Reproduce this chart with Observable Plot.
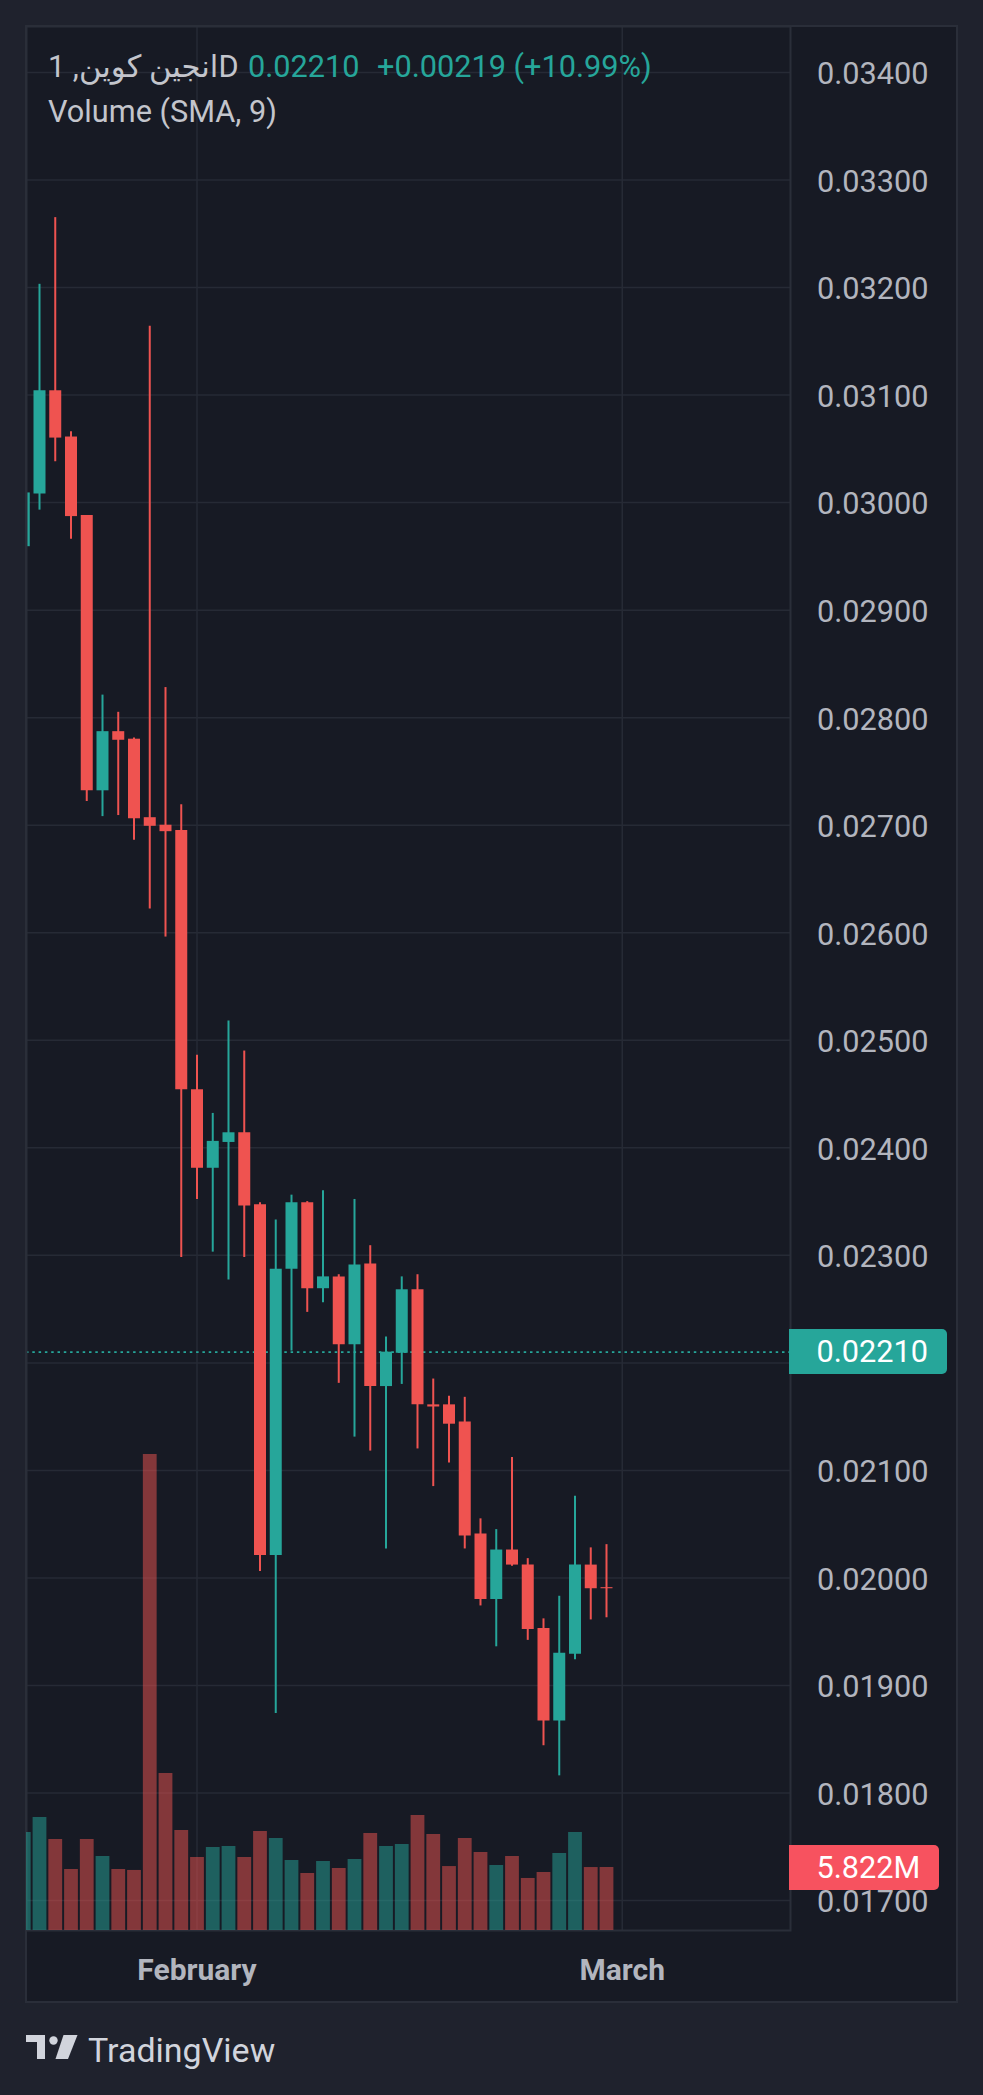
<!DOCTYPE html>
<html>
<head>
<meta charset="utf-8">
<script src="https://cdn.jsdelivr.net/npm/d3@7"></script>
<script src="https://cdn.jsdelivr.net/npm/@observablehq/plot@0.6"></script>
<style>
  html, body { margin: 0; padding: 0; background: #1f222d; }
  #page { position: relative; width: 983px; height: 2095px; overflow: hidden; background: #1f222d; font-family: Roboto, "DejaVu Sans", sans-serif; }
  #frame { position: absolute; left: 25px; top: 25px; width: 933px; height: 1978px; box-sizing: border-box; border: 2px solid #2a2e39; background: #171a24; }
  .layer { position: absolute; left: 26px; top: 26px; }
  .hdr { position: absolute; font-size: 30.7px; line-height: 36px; white-space: nowrap; }
  .tag { position: absolute; left: 789px; height: 45px; line-height: 45px; font-size: 30.7px; color: #ffffff; padding: 0 19px 0 27.5px; border-radius: 0 5px 5px 0; white-space: nowrap; }
</style>
</head>
<body>
<div id="page">
  <div id="frame"></div>
  <div id="mainLayer" class="layer"></div>
  <div id="volLayer" class="layer"></div>
</div>
<script>
// ---- data (daily candles, index 0 = leftmost, partly hidden) ----
const opens  = [0.02959,0.03008,0.03104,0.03061,0.02988,0.02732,0.02787,0.02780,0.02707,0.02700,
                0.02695,0.02454,0.02381,0.02405,0.02414,0.02347,0.02021,0.02287,0.02349,0.02269,
                0.02280,0.02217,0.02292,0.02178,0.02209,0.02268,0.02161,0.02161,0.02145,0.02041,
                0.01980,0.02026,0.02012,0.01953,0.01867,0.01929,0.02012,0.01991];
const highs  = [0.03025,0.03203,0.03265,0.03066,0.02988,0.02821,0.02805,0.02781,0.03164,0.02828,
                0.02719,0.02486,0.02432,0.02518,0.02490,0.02349,0.02333,0.02356,0.02350,0.02360,
                0.02282,0.02352,0.02309,0.02224,0.02280,0.02282,0.02185,0.02169,0.02168,0.02055,
                0.02045,0.02112,0.02018,0.01962,0.01983,0.02076,0.02028,0.02031];
const lows   = [0.02950,0.02993,0.03038,0.02966,0.02722,0.02708,0.02709,0.02686,0.02622,0.02596,
                0.02298,0.02352,0.02303,0.02277,0.02298,0.02006,0.01874,0.02211,0.02247,0.02256,
                0.02181,0.02131,0.02118,0.02027,0.02180,0.02120,0.02085,0.02107,0.02027,0.01974,
                0.01936,0.02011,0.01942,0.01844,0.01816,0.01924,0.01961,0.01963];
const closes = [0.03009,0.03104,0.03060,0.02987,0.02732,0.02787,0.02779,0.02706,0.02699,0.02694,
                0.02454,0.02381,0.02406,0.02414,0.02346,0.02021,0.02287,0.02349,0.02269,0.02280,
                0.02217,0.02291,0.02178,0.02210,0.02268,0.02161,0.02159,0.02143,0.02039,0.01980,
                0.02026,0.02012,0.01952,0.01867,0.01930,0.02012,0.01990,0.01990];
const volumes = [9.06,10.44,8.41,5.64,8.41,6.84,5.64,5.55,44.0,14.51,
                 9.24,6.75,7.67,7.76,6.75,9.15,8.50,6.47,5.27,6.38,
                 5.73,6.56,8.96,7.76,7.95,10.63,8.87,5.91,8.50,7.21,
                 6.01,6.84,4.81,5.36,7.12,9.06,5.82,5.822].map(v => v * 1e6);

const monthTickIndex = [11, 38];
const monthLabels = ["February", "March"];
const priceTicks = [0.017,0.018,0.019,0.020,0.021,0.022,0.023,0.024,0.025,0.026,0.027,0.028,0.029,0.030,0.031,0.032,0.033,0.034];

const symbolName = "انجين كوين, 1D";
const lastPrice = 0.02210;
const priceChange = 0.00219;
const priceChangePct = 10.99;
const volumeTitle = "Volume (SMA, 9)";

// ---- colors ----
const UP = "#26a69a", DOWN = "#ef5350";
const UP_VOL = "rgba(38,166,154,0.5)", DOWN_VOL = "rgba(239,83,80,0.5)";
const GRID = "#262a35", BORDER = "#2a2e39", AXIS_TEXT = "#b2b5be";

const candles = opens.map((o, i) => ({
  i, open: o, high: highs[i], low: lows[i], close: closes[i], volume: volumes[i],
  up: closes[i] >= o
}));

// price-axis labels hidden where the last-price tag sits (as TradingView does)
const axisTicks = priceTicks.filter(t => Math.abs(t - lastPrice) > 0.0003);

const W = 931, H = 1976, MR = 167, MB = 72;
const xScale = {type: "linear", domain: [0, 38], range: [-2.75, 595.75]};
const fmt = d3.format(".5f");

const main = Plot.plot({
  width: W, height: H,
  marginLeft: 0, marginTop: 0, marginRight: MR, marginBottom: MB,
  style: {background: "transparent", color: AXIS_TEXT, fontFamily: "Roboto, sans-serif", fontSize: "30.7px", overflow: "visible"},
  x: xScale,
  y: {domain: [0.017, 0.034], range: [1874.1, 45.96]},
  color: {type: "identity"},
  marks: [
    Plot.ruleY(priceTicks, {stroke: GRID, strokeWidth: 1.5}),
    Plot.ruleX(monthTickIndex, {stroke: GRID, strokeWidth: 1.5}),
    Plot.ruleY([lastPrice], {stroke: UP, strokeWidth: 1.6, strokeDasharray: "2.5,3.8"}),
    Plot.ruleX(candles, {x: "i", y1: "low", y2: "high", stroke: d => d.up ? UP : DOWN, strokeWidth: 2, clip: true}),
    Plot.ruleX(candles, {x: "i", y1: "open", y2: "close", stroke: d => d.up ? UP : DOWN, strokeWidth: 12, clip: true}),
    Plot.frame({stroke: BORDER, strokeWidth: 2}),
    Plot.axisY({anchor: "right", ticks: axisTicks, tickSize: 0, tickPadding: 26.5, tickFormat: fmt, label: null, fill: AXIS_TEXT, dy: 2}),
    Plot.axisX({anchor: "bottom", ticks: monthTickIndex, tickSize: 0, tickPadding: 28,
                tickFormat: d => monthLabels[monthTickIndex.indexOf(d)], label: null,
                fill: AXIS_TEXT, fontWeight: "bold", fontSize: 30})
  ]
});
document.getElementById("mainLayer").appendChild(main);

const vol = Plot.plot({
  width: W, height: H,
  marginLeft: 0, marginTop: 0, marginRight: MR, marginBottom: MB,
  style: {background: "transparent", overflow: "visible"},
  x: {...xScale, axis: null},
  y: {domain: [0, 50e6], range: [1904, 1904 - 50 * 10.82], axis: null},
  color: {type: "identity"},
  marks: [
    Plot.ruleX(candles, {x: "i", y1: 0, y2: "volume", stroke: d => d.up ? UP_VOL : DOWN_VOL, strokeWidth: 13.8, clip: true})
  ]
});
document.getElementById("volLayer").appendChild(vol);

// ---- header, price tags, logo ----
const page = document.getElementById("page");
function addDiv(cls, text, css) {
  const d = document.createElement("div");
  d.className = cls; d.textContent = text;
  Object.assign(d.style, css);
  page.appendChild(d);
  return d;
}
addDiv("hdr", symbolName, {left: "48px", top: "49px", color: "#c3c5cc"});
addDiv("hdr", fmt(lastPrice), {left: "248px", top: "49px", color: UP});
addDiv("hdr", "+" + fmt(priceChange) + " (+" + priceChangePct.toFixed(2) + "%)", {left: "377px", top: "49px", color: UP});
addDiv("hdr", volumeTitle, {left: "48px", top: "94px", color: "#c3c5cc"});

const yMain = main.scale("y"), yVol = vol.scale("y");
const lastVol = volumes[volumes.length - 1];
addDiv("tag", fmt(lastPrice), {top: (26 + yMain.apply(lastPrice) - 22.5) + "px", background: UP});
addDiv("tag", (lastVol / 1e6).toFixed(3) + "M", {top: (26 + yVol.apply(lastVol) - 22.5) + "px", background: "#f7525f"});

const logo = document.createElement("div");
logo.style.cssText = "position:absolute;left:0;top:0;width:983px;height:2095px;pointer-events:none;";
logo.innerHTML = `<svg width="983" height="2095" style="position:absolute;left:0;top:0">
  <g fill="#d1d4dc">
    <path d="M26 2035 H45 V2059 H37 V2042 H26 Z"/>
    <circle cx="53.5" cy="2040.5" r="4.2"/>
    <path d="M63.5 2035 H77.5 L68 2059 H55.5 Z"/>
  </g>
  <text x="88" y="2062" font-family="Roboto, sans-serif" font-size="34" fill="#d1d4dc">TradingView</text>
</svg>`;
page.appendChild(logo);
</script>
</body>
</html>
